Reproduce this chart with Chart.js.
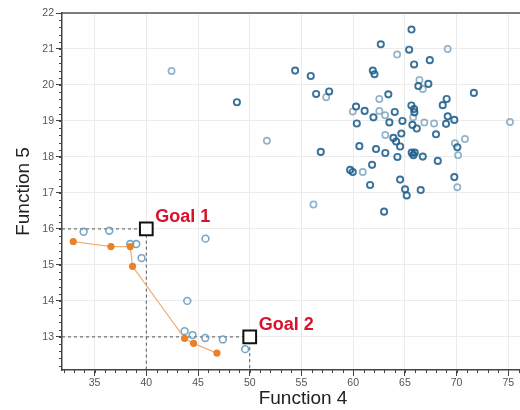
<!DOCTYPE html>
<html>
<head>
<meta charset="utf-8">
<script src="https://cdn.jsdelivr.net/npm/chart.js@4/dist/chart.umd.min.js"></script>
<style>
  html, body { margin: 0; padding: 0; background: #fff; overflow: hidden; }
  #wrap { width: 545px; height: 410px; }
</style>
</head>
<body>
<div id="wrap"><canvas id="c" width="545" height="410"></canvas></div>
<script>
// ---- data ----
const X_MIN = 31.85, X_MAX = 78.45;
const Y_MIN = 12.08, Y_MAX = 22;
const xTickStep = 5, yTickStep = 1;
const xMinorStep = 1, yMinorStep = 0.2;

const clusterDark = [
  [48.76,19.52],[54.39,20.40],[55.9,20.25],[56.42,19.75],[57.68,19.82],[56.87,18.14],[62.99,16.48],
  [62.67,21.13],[65.41,20.98],[65.64,21.54],[65.89,20.57],[67.41,20.69],[61.9,20.40],[62.06,20.30],
  [66.3,19.97],[67.27,20.03],[63.4,19.74],[71.67,19.78],[69.04,19.61],[68.66,19.44],[60.28,19.40],
  [61.11,19.28],[61.96,19.10],[64.02,19.25],[65.63,19.43],[65.89,19.33],[65.92,19.24],[60.35,18.93],
  [63.5,18.96],[64.76,19.0],[65.73,18.89],[66.15,18.79],[69.14,19.13],[69.78,19.03],[68.98,18.92],
  [64.66,18.65],[63.89,18.53],[64.15,18.43],[64.54,18.29],[68.01,18.63],[60.6,18.30],[62.21,18.22],
  [63.11,18.11],[64.28,18.0],[65.66,18.12],[65.82,18.05],[65.95,18.12],[66.73,18.01],[68.18,17.89],
  [70.07,18.27],[61.83,17.78],[59.71,17.64],[59.96,17.58],[61.64,17.22],[64.54,17.37],[65.02,17.10],
  [65.18,16.93],[66.53,17.08],[69.78,17.44]
];
const clusterLight = [
  [42.44,20.39],[51.66,18.45],[57.39,19.66],[56.16,16.68],[64.25,20.85],[69.14,21.0],[66.41,20.14],
  [66.73,19.89],[62.53,19.61],[75.16,18.97],[59.96,19.26],[62.53,19.28],[63.09,19.16],[65.8,19.10],
  [66.88,18.96],[67.82,18.93],[63.11,18.61],[69.84,18.38],[70.14,18.05],[70.81,18.50],[60.93,17.58],
  [70.07,17.16]
];
const nearFront = [
  [33.94,15.92],[36.42,15.95],[38.45,15.58],[39.03,15.58],[39.54,15.19],[45.72,15.73],[43.96,14.0],
  [43.7,13.16],[44.47,13.05],[45.7,12.97],[47.4,12.93],[49.56,12.66]
];
const frontX = [32.94, 36.58, 38.45, 38.67, 43.7, 44.57, 46.83];
const frontY = [15.65, 15.51, 15.51, 14.96, 12.96, 12.82, 12.55];
const goalLabels = ["Goal 1", "Goal 2"];
const goalX = [40, 50];
const goalY = [16, 13];
const xTitle = "Function 4";
const yTitle = "Function 5";

// ---- build datasets ----
const toPts = arr => arr.map(p => ({x: p[0], y: p[1]}));
const frontPts = frontX.map((x, i) => ({x, y: frontY[i]}));
const goalPts = goalX.map((x, i) => ({x, y: goalY[i]}));

const guideSets = goalPts.map(g => ({
  type: 'line',
  data: [{x: X_MIN, y: g.y}, {x: g.x, y: g.y}, {x: g.x, y: Y_MIN}],
  borderColor: '#555',
  borderWidth: 1,
  borderDash: [3, 3],
  pointRadius: 0,
  fill: false,
  order: 5
}));

const ringBase = { pointStyle: 'circle', backgroundColor: 'rgba(255,255,255,0)', showLine: false };

const datasets = [
  ...guideSets,
  Object.assign({}, ringBase, { label: 'light', data: toPts(clusterLight), borderColor: 'rgba(120,160,190,0.8)', pointBorderWidth: 1.7, pointRadius: 3.1, order: 4 }),
  Object.assign({}, ringBase, { label: 'near', data: toPts(nearFront), borderColor: 'rgba(105,155,190,0.9)', pointBorderWidth: 1.6, pointRadius: 3.4, order: 4 }),
  Object.assign({}, ringBase, { label: 'dark', data: toPts(clusterDark), borderColor: 'rgba(30,95,140,0.88)', pointBorderWidth: 1.9, pointRadius: 3.1, order: 3 }),
  { type: 'line', label: 'front', data: frontPts, borderColor: '#f0b07a', borderWidth: 1.3,
    pointBackgroundColor: '#ea8128', pointBorderColor: '#ea8128', pointRadius: 3.6, pointBorderWidth: 0, fill: false, order: 2 },
  { label: 'goals', data: goalPts, pointStyle: 'rect', pointRadius: 9, pointBorderWidth: 2,
    borderColor: '#111', backgroundColor: '#fff', showLine: false, order: 1 }
];

// ---- plugins ----
const extras = {
  id: 'extras',
  afterDraw(chart) {
    const ctx = chart.ctx, a = chart.chartArea;
    const xs = chart.scales.x, ys = chart.scales.y;
    ctx.save();
    // top border
    ctx.strokeStyle = '#555'; ctx.lineWidth = 1.5;
    ctx.beginPath(); ctx.moveTo(a.left, a.top); ctx.lineTo(a.right + 20, a.top); ctx.stroke();
    // minor ticks
    ctx.strokeStyle = '#444'; ctx.lineWidth = 1;
    ctx.beginPath();
    for (let v = Math.ceil(X_MIN / xMinorStep) * xMinorStep; v <= X_MAX + 1e-9; v += xMinorStep) {
      const px = Math.round(xs.getPixelForValue(v)) + 0.5;
      ctx.moveTo(px, a.bottom); ctx.lineTo(px, a.bottom + 3);
    }
    for (let v = Math.ceil(Y_MIN / yMinorStep) * yMinorStep; v <= Y_MAX + 1e-9; v += yMinorStep) {
      const py = Math.round(ys.getPixelForValue(v)) + 0.5;
      ctx.moveTo(a.left, py); ctx.lineTo(a.left - 3, py);
    }
    ctx.stroke();
    // goal labels
    ctx.fillStyle = '#d9122b';
    ctx.font = 'bold 18px "Liberation Sans", Arial, sans-serif';
    ctx.textBaseline = 'alphabetic';
    ctx.textAlign = 'left';
    goalPts.forEach((g, i) => {
      const px = xs.getPixelForValue(g.x), py = ys.getPixelForValue(g.y);
      ctx.fillText(goalLabels[i], px + 9, py - 7);
    });
    ctx.restore();
  }
};

new Chart(document.getElementById('c'), {
  type: 'scatter',
  data: { datasets },
  plugins: [extras],
  options: {
    responsive: false,
    animation: false,
    devicePixelRatio: 1,
    layout: { autoPadding: false, padding: { top: 13, right: 1, left: 0, bottom: 0 } },
    plugins: { legend: { display: false }, tooltip: { enabled: false } },
    scales: {
      x: {
        type: 'linear', min: X_MIN, max: X_MAX,
        ticks: { stepSize: xTickStep, includeBounds: false, color: '#555', padding: 1,
                 font: { family: '"Liberation Sans", Arial, sans-serif', size: 10.5 } },
        grid: { color: '#ebebeb', tickColor: '#444', tickLength: 6, lineWidth: 1 },
        border: { display: true, color: '#444', width: 1.5 },
        title: { display: true, text: xTitle, color: '#222', padding: { top: 0, bottom: 0 },
                 font: { family: '"Liberation Sans", Arial, sans-serif', size: 19 } },
        afterFit(s) { s.height = 40; }
      },
      y: {
        type: 'linear', min: Y_MIN, max: Y_MAX,
        ticks: { stepSize: yTickStep, includeBounds: false, color: '#555', padding: 2,
                 font: { family: '"Liberation Sans", Arial, sans-serif', size: 10.5 } },
        grid: { color: '#ebebeb', tickColor: '#444', tickLength: 6, lineWidth: 1 },
        border: { display: true, color: '#444', width: 1.5 },
        title: { display: true, text: yTitle, color: '#222', padding: { top: 12, bottom: 0 },
                 font: { family: '"Liberation Sans", Arial, sans-serif', size: 19 } },
        afterFit(s) { s.width = 62; }
      }
    }
  }
});
</script>
</body>
</html>
